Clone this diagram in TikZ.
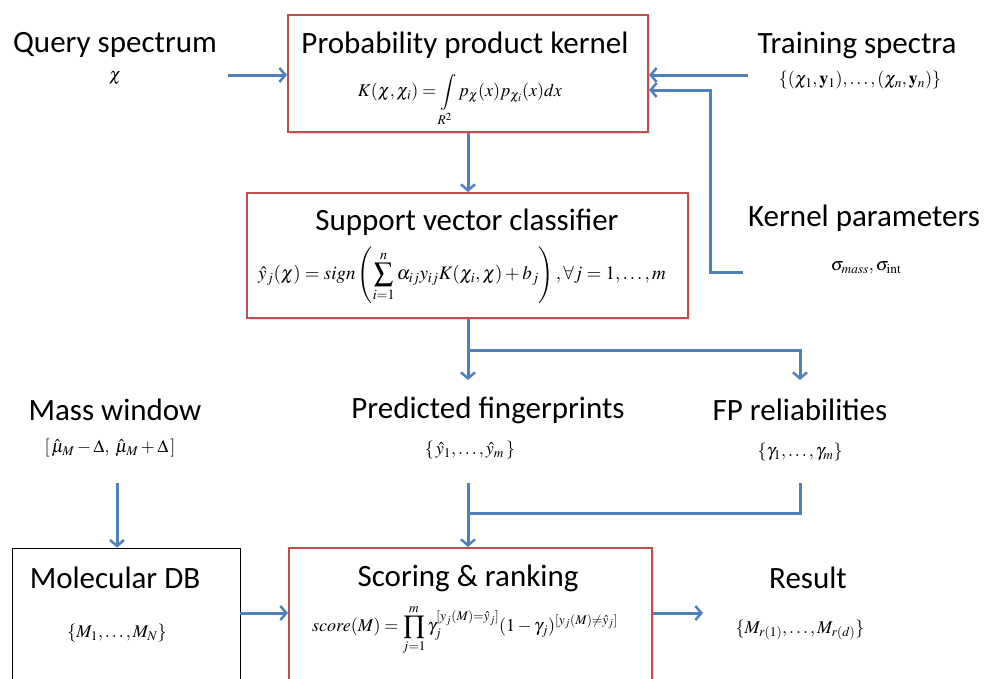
\documentclass[tikz,border=0pt]{standalone}
\usepackage{mathptmx}
\usepackage{fontspec}
\setmainfont{Carlito}
\usepackage{amsmath}
\usetikzlibrary{arrows.meta}
\usetikzlibrary{calc}
\usetikzlibrary{shadows}
\definecolor{flowblue}{HTML}{4F81BD}
\definecolor{boxred}{HTML}{C0504D}
\begin{document}
\begin{tikzpicture}[x=1pt,y=-1pt,
        title/.style={font=\fontsize{31}{36}\selectfont,inner sep=0pt},
        formula/.style={font=\fontsize{18}{22}\selectfont,inner sep=0pt},
        redbox/.style={draw=boxred,line width=2pt,fill=white,
            drop shadow={opacity=0.25,shadow xshift=2pt,shadow yshift=-2pt}},
        flow/.style={draw=flowblue,line width=3pt,-{Straight Barb[length=6pt,width=14pt,line width=2.5pt]}},
        line/.style={draw=flowblue,line width=3pt}]
    \useasboundingbox (0,0) rectangle (985,678);

    \node[redbox,minimum width=360,minimum height=117] (ppk) at (468,73.5) {};
    \node[redbox,minimum width=441,minimum height=125] (svc) at (467.5,255.5) {};
    \node[redbox,minimum width=363,minimum height=192] (score) at (470.5,644) {};
    \node[draw,thick,minimum width=228,minimum height=192] (mol) at (126,644) {};

    \node[title] (qt) at (115,45) {Query spectrum};
    \node[formula] (qf) at (115,78) {$\chi$};
    \node[title] (ppkt) at (465,45) {Probability product kernel};
    \node[formula] (ppkf) at (460,100) {$K(\chi,\chi_i)=\displaystyle\int\limits_{R^2} p_\chi(x)p_{\chi_i}(x)dx$};
    \node[title] (trt) at (857,45) {Training spectra};
    \node[formula] (trf) at (860,80) {$\{(\chi_1,\mathbf{y}_1),\ldots,(\chi_n,\mathbf{y}_n)\}$};
    \node[title] (svct) at (467,222) {Support vector classifier};
    \node[formula,font=\fontsize{19}{22}\selectfont] (svcf) at (462,275) {$\hat{y}_j(\chi)=sign\left(\displaystyle\sum_{i=1}^{n}\alpha_{ij}y_{ij}K(\chi_i,\chi)+b_j\right),\forall j=1,\ldots,m$};
    \node[title] (kpt) at (864,218) {Kernel parameters};
    \node[formula] (kpf) at (866,268) {$\sigma_{mass},\sigma_{\mathrm{int}}$};
    \node[title] (mwt) at (115,410) {Mass window};
    \node[formula] (mwf) at (110,448) {$\left[\,\hat{\mu}_M-\Delta,\;\hat{\mu}_M+\Delta\,\right]$};
    \node[title] (pft) at (488,410) {Predicted fingerprints};
    \node[formula] (pff) at (470,450) {$\{\,\hat{y}_1,\ldots,\hat{y}_m\,\}$};
    \node[title] (fprt) at (800,410) {FP reliabilities};
    \node[formula] (fprf) at (800,452) {$\{\gamma_1,\ldots,\gamma_m\}$};
    \node[title] (molt) at (115,578) {Molecular DB};
    \node[formula] (molf) at (117,633) {$\{M_1,\ldots,M_N\}$};
    \node[title] (sct) at (468,578) {Scoring \& ranking};
    \node[formula] (scf) at (465,630) {$score(M)=\displaystyle\prod_{j=1}^{m}\gamma_j^{[y_j(M)=\hat{y}_j]}(1-\gamma_j)^{[y_j(M)\neq\hat{y}_j]}$};
    \node[title] (rest) at (808,578) {Result};
    \node[formula] (resf) at (800,630) {$\{M_{r(1)},\ldots,M_{r(d)}\}$};

    \coordinate (qout) at (228,75);
    \coordinate (trout) at (748,75);
    \coordinate (kpout) at (743,272);
    \coordinate (kpbend) at (710,272);
    \coordinate (split) at (468,350);
    \coordinate (pfout) at (468,483);
    \coordinate (fprout) at (800,483);
    \coordinate (join) at (468,513);
    \coordinate (mwout) at (117,483);
    \coordinate (resin) at (703,613);

    \path[flow] (qout) -- (qout -| ppk.west);
    \path[flow] (trout) -- (trout -| ppk.east);
    \path[flow] (kpout) -- (kpbend) -- (kpbend |- 0,90) -- (ppk.east |- 0,90);
    \path[flow] (ppk.south -| split) -- (svc.north -| split);
    \path[line] (svc.south -| split) -- (split);
    \path[flow] (split) -- (468,380);
    \path[flow] (split) -| (800,380);
    \path[flow] (mwout) -- (mol.north -| mwout);
    \path[line] (fprout) |- (join);
    \path[flow] (pfout) -- (score.north -| pfout);
    \path[flow] (mol.east |- 0,613) -- (score.west |- 0,613);
    \path[flow] (score.east |- resin) -- (resin);
\end{tikzpicture}
\end{document}
